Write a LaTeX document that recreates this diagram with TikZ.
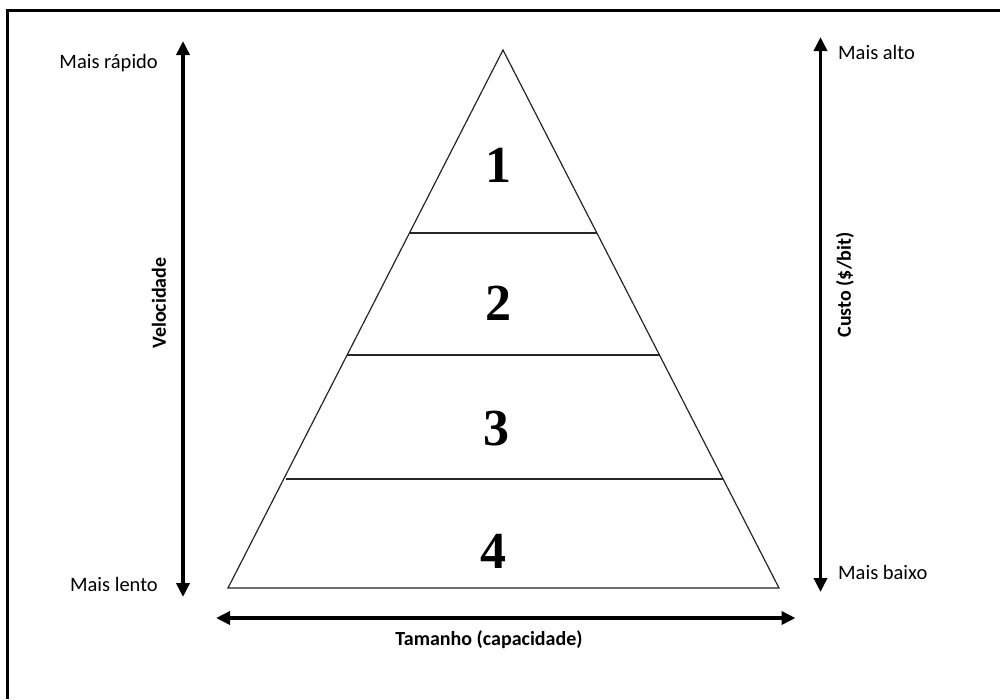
\documentclass[tikz,border=0pt]{standalone}
\usepackage{fontspec}
\setmainfont{Carlito}
\newfontfamily\numfont{Liberation Serif}
\usetikzlibrary{arrows.meta}
\begin{document}
\begin{tikzpicture}[x=1pt,y=-1pt,
  level/.style={draw=black!85, line width=1.2pt},
  bigarrow/.style={line width=3.6pt, {Triangle[length=14pt,width=13pt]}-{Triangle[length=14pt,width=13pt]}},
  lbl/.style={font=\fontsize{20.5}{24}\selectfont, inner sep=0pt},
  blbl/.style={font=\fontsize{20}{24}\selectfont\bfseries, inner sep=0pt},
  num/.style={font=\fontsize{52}{60}\selectfont\numfont\bfseries, inner sep=0pt}]
\useasboundingbox (0,0) rectangle (1000,699);
\fill[white] (0,0) rectangle (1000,699);
% frame (top and left visible)
\draw[line width=2.2pt] (7.5,699) -- (7.5,10.5) -- (1000,10.5);
% pyramid
\coordinate (apex) at (503,50);
\coordinate (bl) at (228,588);
\coordinate (br) at (779,588);
\draw[level, line join=miter] (apex) -- (br) -- (bl) -- cycle;
\draw[level] (409.5,233) coordinate (a1) -- (597,233) coordinate (b1);
\draw[level] (347.3,355) coordinate (a2) -- (659.6,355) coordinate (b2);
\draw[level] (286,479) coordinate (a3) -- (723,479) coordinate (b3);
\node[num] (n1) at (498,165) {1};
\node[num] (n2) at (498,303) {2};
\node[num] (n3) at (496,429) {3};
\node[num] (n4) at (493,551) {4};
% arrows
\coordinate (vt) at (183,41);
\coordinate (vb) at (183,597);
\draw[bigarrow] (vb) -- (vt);
\coordinate (ct) at (820.5,37);
\coordinate (cb) at (820.5,592);
\draw[bigarrow] (cb) -- (ct);
\coordinate (hl) at (216,618);
\coordinate (hr) at (795.5,618);
\draw[bigarrow] (hl) -- (hr);
% labels
\node[lbl, anchor=east] (fast) at (158,63) {Mais rápido};
\node[lbl, anchor=east] (slow) at (158,584) {Mais lento};
\node[lbl, anchor=west] (high) at (838,52) {Mais alto};
\node[lbl, anchor=west] (low) at (838,572) {Mais baixo};
\node[blbl, rotate=90] (vel) at (159,303) {Velocidade};
\node[blbl, rotate=90] (cost) at (845,285) {Custo (\$/bit)};
\node[blbl] (size) at (489,640) {Tamanho (capacidade)};
\end{tikzpicture}
\end{document}
